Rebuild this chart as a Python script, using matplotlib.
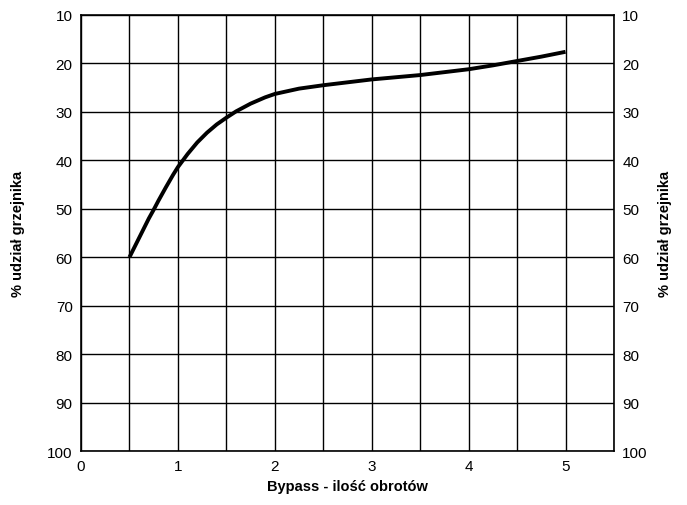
import numpy as np
import matplotlib.pyplot as plt

plt.rcParams['font.family'] = ['Liberation Sans', 'DejaVu Sans']

# curve
obroty = [0.5, 0.55, 0.6, 0.65, 0.7, 0.75, 0.8, 0.875, 0.95, 1.0, 1.1, 1.2, 1.3, 1.4,
          1.5, 1.6, 1.75, 1.9, 2.0, 2.25, 2.5, 2.75, 3.0, 3.5, 4.0, 4.25, 4.5, 4.75, 5.0]
udzial = [60, 58, 56, 54, 52, 50.2, 48.3, 45.6, 43.0, 41.4, 38.7, 36.3, 34.3, 32.6,
          31.2, 29.9, 28.3, 27, 26.3, 25.2, 24.5, 23.9, 23.3, 22.4, 21.2, 20.4, 19.5, 18.6, 17.6]

x_ticks = [0, 1, 2, 3, 4, 5]
y_ticks = [10, 20, 30, 40, 50, 60, 70, 80, 90, 100]

fig = plt.figure(figsize=(6.87, 5.06), dpi=100)
ax = fig.add_axes([0.1179, 0.1067, 0.7758, 0.8617])

ax.plot(obroty, udzial, color='black', linewidth=2.8, solid_capstyle='butt',
        solid_joinstyle='round')

ax.set_xlim(0, 5.5)
ax.set_ylim(100, 10)
ax.set_xticks(x_ticks)
ax.set_xticks(np.arange(0, 5.51, 0.5), minor=True)
ax.set_yticks(y_ticks)
ax.grid(True, which='both', axis='x', color='black', linewidth=1)
ax.grid(True, which='major', axis='y', color='black', linewidth=1)
ax.tick_params(which='both', length=0, labelsize=11, pad=6)
for s in ax.spines.values():
    s.set_linewidth(1.2)

ax.set_xlabel('Bypass - ilość obrotów', fontsize=10.5, fontweight='bold', labelpad=4)
ax.set_ylabel('% udział grzejnika', fontsize=10.5, fontweight='bold', labelpad=16)

ax2 = ax.twinx()
ax2.set_ylim(ax.get_ylim())
ax2.set_yticks(y_ticks)
ax2.tick_params(length=0, labelsize=11, pad=6)
for s in ax2.spines.values():
    s.set_visible(False)
ax2.set_ylabel('% udział grzejnika', fontsize=10.5, fontweight='bold', rotation=90, labelpad=7)

fig.savefig('out.png', dpi=100)
